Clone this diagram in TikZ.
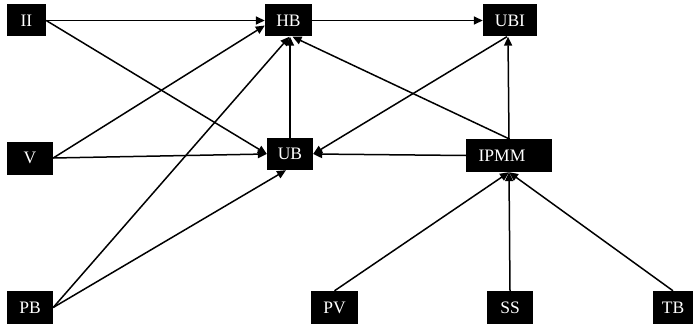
\documentclass[tikz,border=0pt]{standalone}
\usepackage{fontspec}
\setmainfont{Liberation Serif}
\usetikzlibrary{arrows.meta}
\begin{document}
\begin{tikzpicture}[x=1pt,y=-1pt,
  bx/.style={fill=black,text=white,inner sep=0pt,minimum height=32pt,font=\fontsize{17.5}{20}\selectfont},
  ar/.style={line width=1.5pt,-{Triangle[length=9pt,width=8pt]}}]
\useasboundingbox (0,0) rectangle (693,326);
\node[bx,minimum width=39pt] (II) at (26.5,20.5) {II};
\node[bx,minimum width=47pt] (HB) at (288.5,20.5) {HB};
\node[bx,minimum width=54pt] (UBI) at (510,20.5) {UBI};
\node[bx,minimum width=46pt,minimum height=33pt] (V) at (30,158) {V};
\node[bx,minimum width=46pt] (UB) at (290,154) {UB};
\node[bx,minimum width=86pt,minimum height=33pt] (IPMM) at (509,155.5) {IPMM\hspace*{14pt}};
\node[bx,minimum width=46pt,minimum height=33pt] (PB) at (30,307.5) {PB};
\node[bx,minimum width=47pt,minimum height=33pt] (PV) at (334.5,307.5) {PV};
\node[bx,minimum width=46pt,minimum height=33pt] (SS) at (510,307.5) {SS};
\node[bx,minimum width=40pt,minimum height=33pt] (TB) at (673,307.5) {TB};
\draw[ar] (II.east) -- (HB.west);
\draw[ar] (II.east) -- (UB.west);
\draw[ar] (V.east) -- ([yshift=-5pt]HB.west);
\draw[ar] (V.east) -- (UB.west);
\draw[ar] (PB.east) -- ([xshift=1pt]HB.south);
\draw[ar] (PB.east) -- ([xshift=-4pt]UB.south);
\draw[ar] (UB.north) -- (UB.north |- HB.south);
\draw[ar] (HB.east) -- (UBI.west);
\draw[ar] (IPMM.north) -- ([xshift=4pt]HB.south);
\draw[ar] (IPMM.north) -- ([xshift=-2pt]UBI.south);
\draw[ar] ([xshift=-3pt]UBI.south) -- (UB.east);
\draw[ar] (IPMM.west) -- (UB.east);
\draw[ar] (PV.north) -- (IPMM.south);
\draw[ar] (SS.north) -- (IPMM.south);
\draw[ar] (TB.north) -- (IPMM.south);
\end{tikzpicture}
\end{document}
